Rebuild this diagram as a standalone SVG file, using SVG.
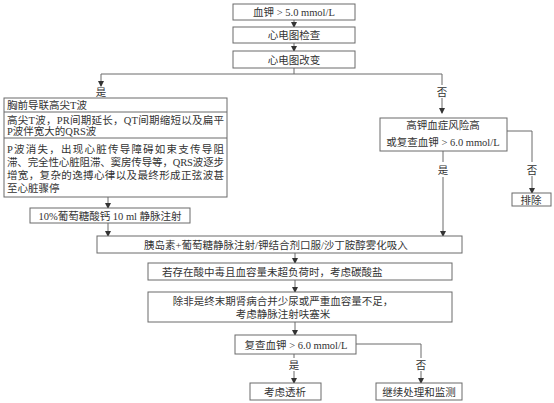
<svg xmlns="http://www.w3.org/2000/svg" width="554" height="403" viewBox="0 0 554 403">
<style>
.b{fill:#fff;stroke:#6a6a6a;stroke-width:1}
.l{fill:none;stroke:#6a6a6a;stroke-width:1}
text{font-family:"Liberation Serif","Noto Sans CJK SC",serif;font-size:10.5px;fill:#333}
.c{text-anchor:middle}
</style>
<defs>
<marker id="a" markerWidth="6" markerHeight="6" refX="5" refY="3" orient="auto" markerUnits="userSpaceOnUse">
<path d="M0,0 L6,3 L0,6 Z" fill="#333"/>
</marker>
</defs>
<rect width="554" height="403" fill="#fff"/>
<g id="connectors">
<path class="l" d="M294,20 V27" marker-end="url(#a)"/>
<path class="l" d="M294,43 V51" marker-end="url(#a)"/>
<path class="l" d="M294,68 V74 M101,74 H442"/>
<path class="l" d="M101,74 V86" marker-end="url(#a)"/>
<path class="l" d="M442,74 V85"/>
<path class="l" d="M442,98 V113" marker-end="url(#a)"/>
<path class="l" d="M108,197 V208" marker-end="url(#a)"/>
<path class="l" d="M108,223 V236" marker-end="url(#a)"/>
<path class="l" d="M507,131 H532 V162"/>
<path class="l" d="M532,176 V193" marker-end="url(#a)"/>
<path class="l" d="M443,151 V162"/>
<path class="l" d="M443,177 V236" marker-end="url(#a)"/>
<path class="l" d="M295,253 V263" marker-end="url(#a)"/>
<path class="l" d="M295,280 V292" marker-end="url(#a)"/>
<path class="l" d="M295,322 V335" marker-end="url(#a)"/>
<path class="l" d="M294,354 V358"/>
<path class="l" d="M294,371 V383" marker-end="url(#a)"/>
<path class="l" d="M356,344 H421 V358"/>
<path class="l" d="M421,371 V383" marker-end="url(#a)"/>
<text class="c" x="101" y="96">是</text>
<text class="c" x="442" y="96">否</text>
<text class="c" x="532" y="174">否</text>
<text class="c" x="443" y="174">是</text>
<text class="c" x="294" y="369">是</text>
<text class="c" x="421" y="369">否</text>
</g>
<g id="n1"><rect class="b" x="233" y="4" width="122" height="16"/><text class="c" x="294" y="16">血钾 &gt; 5.0 mmol/L</text></g>
<g id="n2"><rect class="b" x="233" y="27" width="122" height="16"/><text class="c" x="294" y="39">心电图检查</text></g>
<g id="n3"><rect class="b" x="233" y="51" width="122" height="17"/><text class="c" x="294" y="63.5">心电图改变</text></g>
<g id="n4">
<rect class="b" x="4" y="98" width="223" height="99"/>
<path class="l" d="M4,112 H227 M4,138 H227"/>
<text x="7" y="109">胸前导联高尖T波</text>
<text x="7" y="123.5" textLength="217" lengthAdjust="spacing">高尖T波，PR间期延长，QT间期缩短以及扁平</text>
<text x="7" y="135">P波伴宽大的QRS波</text>
<text x="7" y="153" textLength="217" lengthAdjust="spacing">P波消失，出现心脏传导障碍如束支传导阻</text>
<text x="7" y="166" textLength="217" lengthAdjust="spacing">滞、完全性心脏阻滞、窦房传导等，QRS波逐步</text>
<text x="7" y="179" textLength="217" lengthAdjust="spacing">增宽，复杂的逸搏心律以及最终形成正弦波甚</text>
<text x="7" y="192">至心脏骤停</text>
</g>
<g id="n5"><rect class="b" x="30" y="208" width="160" height="15"/><text class="c" x="110" y="219.5">10%葡萄糖酸钙 10 ml 静脉注射</text></g>
<g id="n6"><rect class="b" x="380" y="118" width="127" height="33"/><text class="c" x="443" y="129">高钾血症风险高</text><text class="c" x="443" y="146">或复查血钾 &gt; 6.0 mmol/L</text></g>
<g id="n7"><rect class="b" x="512" y="193" width="39" height="13"/><text class="c" x="531" y="203.5">排除</text></g>
<g id="n8"><rect class="b" x="97" y="236" width="365" height="17"/><text class="c" x="276" y="248.5">胰岛素+葡萄糖静脉注射/钾结合剂口服/沙丁胺醇雾化吸入</text></g>
<g id="n9"><rect class="b" x="148" y="263" width="304" height="17"/><text x="162" y="275.5">若存在酸中毒且血容量未超负荷时，考虑碳酸盐</text></g>
<g id="n10"><rect class="b" x="148" y="292" width="304" height="30"/><text class="c" x="283" y="305">除非是终末期肾病合并少尿或严重血容量不足，</text><text class="c" x="283" y="318">考虑静脉注射呋塞米</text></g>
<g id="n11"><rect class="b" x="235" y="335" width="121" height="19"/><text class="c" x="296" y="348.5">复查血钾 &gt; 6.0 mmol/L</text></g>
<g id="n12"><rect class="b" x="250" y="383" width="71" height="17"/><text class="c" x="285" y="395.5">考虑透析</text></g>
<g id="n13"><rect class="b" x="376" y="383" width="86" height="17"/><text class="c" x="419" y="395.5">继续处理和监测</text></g>
</svg>
